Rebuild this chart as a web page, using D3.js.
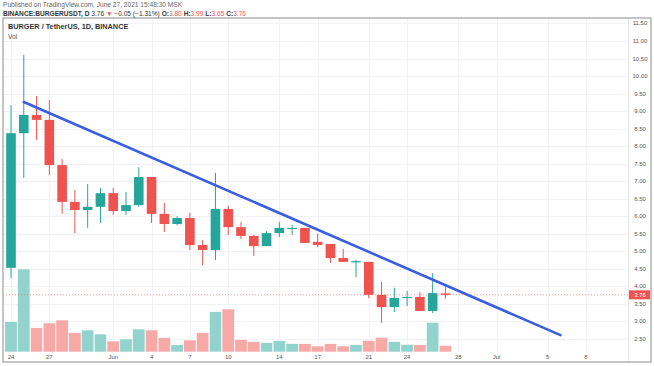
<!DOCTYPE html>
<html>
<head>
<meta charset="utf-8">
<script src="https://cdn.jsdelivr.net/npm/d3@7"></script>
<style>
  body { margin: 0; background: #fff; }
  svg { display: block; font-family: "Liberation Sans", Arial, sans-serif; }
</style>
</head>
<body>
<svg width="654" height="366"></svg>
<script>
const days = ["2021-05-24","2021-05-25","2021-05-26","2021-05-27","2021-05-28","2021-05-29","2021-05-30","2021-05-31",
  "2021-06-01","2021-06-02","2021-06-03","2021-06-04","2021-06-05","2021-06-06","2021-06-07","2021-06-08","2021-06-09",
  "2021-06-10","2021-06-11","2021-06-12","2021-06-13","2021-06-14","2021-06-15","2021-06-16","2021-06-17","2021-06-18",
  "2021-06-19","2021-06-20","2021-06-21","2021-06-22","2021-06-23","2021-06-24","2021-06-25","2021-06-26","2021-06-27"];
const open  = [4.53,8.37,8.89,8.75,7.46,6.41,6.18,6.27,6.66,6.15,6.32,7.12,6.07,5.78,5.95,5.18,5.04,6.21,5.69,5.44,5.15,5.52,5.64,5.67,5.27,5.21,4.81,4.70,4.70,3.76,3.41,3.67,3.70,3.30,3.80];
const high  = [9.17,10.60,9.43,9.32,7.63,6.75,6.92,6.81,6.81,6.69,7.40,7.12,6.38,6.00,6.10,5.32,7.24,6.30,5.84,5.47,5.58,5.84,5.75,5.67,5.50,5.21,5.07,4.75,4.70,4.13,3.96,3.87,3.84,4.38,3.99];
const low   = [4.24,7.09,8.18,7.18,6.07,5.52,5.67,5.81,6.04,6.04,6.27,5.81,5.55,5.75,5.04,4.61,4.75,5.47,5.35,4.87,5.15,5.41,5.47,5.24,5.12,4.67,4.70,4.27,3.67,2.96,3.27,3.44,3.30,3.24,3.65];
const close = [8.37,8.89,8.75,7.46,6.41,6.18,6.27,6.66,6.15,6.32,7.12,6.07,5.78,5.95,5.18,5.04,6.21,5.69,5.44,5.15,5.52,5.67,5.67,5.24,5.18,4.81,4.70,4.72,3.76,3.41,3.67,3.70,3.30,3.81,3.76];
const volume = [3.03,8.30,2.43,2.90,3.20,1.93,2.20,1.80,1.10,1.30,2.30,2.20,1.43,0.73,1.20,1.93,4.03,4.30,1.27,1.03,0.93,1.13,0.83,0.83,0.60,0.83,0.60,0.73,1.17,1.47,1.03,0.77,0.73,2.97,0.67];

const priceTicks = [2.5,3,3.5,4,4.5,5,5.5,6,6.5,7,7.5,8,8.5,9,9.5,10,10.5,11,11.5];
const dateTicks = ["2021-05-24","2021-05-27","2021-06-01","2021-06-04","2021-06-07","2021-06-10","2021-06-14",
  "2021-06-17","2021-06-21","2021-06-24","2021-06-28","2021-07-01","2021-07-05","2021-07-08"];
const trendDays = ["2021-05-25","2021-07-06"];
const trendPrices = [9.26, 2.61];
const lastPrice = 3.76;

const parse = d3.utcParse("%Y-%m-%d");
const candles = days.map((d, i) => ({date: parse(d), o: open[i], h: high[i], l: low[i], c: close[i], v: volume[i]}));

const svg = d3.select("svg");
const green = "#26a69a", red = "#ef5350";
const volGreen = "#93d3cd", volRed = "#f7a9a8";

// plot area
const pLeft = 3, pRight = 628, pTop = 18, pBottom = 352;

const x = d3.scaleUtc()
  .domain([parse("2021-05-24"), parse("2021-07-08")])
  .range([11, 586]);
const y = d3.scaleLinear()
  .domain([2.5, 11])
  .range([339, 41]);
const yv = d3.scaleLinear()
  .domain([0, 8.3])
  .range([pBottom, 269]);

const plot = svg.append("g");

// grid
plot.append("g")
  .selectAll("line")
  .data(priceTicks)
  .enter().append("line")
  .attr("x1", pLeft).attr("x2", pRight)
  .attr("y1", d => Math.round(y(d)) + 0.5).attr("y2", d => Math.round(y(d)) + 0.5)
  .attr("stroke", "#f0f2f7");
plot.append("g")
  .selectAll("line")
  .data(dateTicks)
  .enter().append("line")
  .attr("x1", d => Math.round(x(parse(d))) + 0.5).attr("x2", d => Math.round(x(parse(d))) + 0.5)
  .attr("y1", pTop).attr("y2", pBottom)
  .attr("stroke", "#f0f2f7");

// volume
const bw = 9.6;
plot.append("g")
  .selectAll("rect")
  .data(candles)
  .enter().append("rect")
  .attr("x", d => x(d.date) - 6.2)
  .attr("width", 12.4)
  .attr("y", d => yv(d.v))
  .attr("height", d => pBottom - yv(d.v))
  .attr("fill", d => d.c >= d.o ? volGreen : volRed)
  .attr("stroke", "#fff")
  .attr("stroke-width", 0.6);

// last price dotted line
plot.append("line")
  .attr("x1", pLeft).attr("x2", pRight)
  .attr("y1", y(lastPrice)).attr("y2", y(lastPrice))
  .attr("stroke", red)
  .attr("stroke-opacity", 0.6)
  .attr("stroke-dasharray", "1,2");

// candles
const cg = plot.append("g")
  .selectAll("g")
  .data(candles)
  .enter().append("g");
cg.append("line")
  .attr("x1", d => x(d.date)).attr("x2", d => x(d.date))
  .attr("y1", d => y(d.h)).attr("y2", d => y(d.l))
  .attr("stroke", d => d.c >= d.o ? green : red)
  .attr("stroke-width", 1);
cg.append("rect")
  .attr("x", d => x(d.date) - bw / 2)
  .attr("width", bw)
  .attr("y", d => y(Math.max(d.o, d.c)))
  .attr("height", d => Math.max(1.2, Math.abs(y(d.o) - y(d.c))))
  .attr("fill", d => d.c >= d.o ? green : red);

// trend line
plot.append("line")
  .attr("x1", x(parse(trendDays[0]))).attr("y1", y(trendPrices[0]))
  .attr("x2", x(parse(trendDays[1]))).attr("y2", y(trendPrices[1]))
  .attr("stroke", "#3b5ee0")
  .attr("stroke-width", 2.6)
  .attr("stroke-linecap", "round");

// price axis
svg.append("line")
  .attr("x1", pRight + 0.5).attr("x2", pRight + 0.5)
  .attr("y1", pTop).attr("y2", 362)
  .attr("stroke", "#e6e6e6");
svg.append("g")
  .selectAll("text")
  .data(priceTicks)
  .enter().append("text")
  .attr("x", 640)
  .attr("y", d => y(d) + 2)
  .attr("text-anchor", "middle")
  .attr("font-size", 6)
  .attr("fill", "#555")
  .text(d => d.toFixed(2));

svg.append("rect")
  .attr("x", 629).attr("y", y(lastPrice) - 4.5)
  .attr("width", 21).attr("height", 9)
  .attr("fill", red);
svg.append("text")
  .attr("x", 640).attr("y", y(lastPrice) + 2)
  .attr("text-anchor", "middle")
  .attr("font-size", 6)
  .attr("fill", "#fff")
  .text(lastPrice.toFixed(2));

// time axis
const fmt = d => {
  const t = parse(d);
  if (t.getUTCDate() === 1) return d3.utcFormat("%b")(t);
  return t.getUTCDate();
};
svg.append("g")
  .selectAll("text")
  .data(dateTicks)
  .enter().append("text")
  .attr("x", d => x(parse(d)))
  .attr("y", 359)
  .attr("text-anchor", "middle")
  .attr("font-size", 6)
  .attr("fill", "#555")
  .text(fmt);

// frame
svg.append("rect")
  .attr("x", pLeft).attr("y", pTop)
  .attr("width", 651 - pLeft).attr("height", 362 - pTop)
  .attr("fill", "none")
  .attr("stroke", "#9e9e9e")
  .attr("stroke-width", 1.2);

// header
svg.append("text")
  .attr("x", 3).attr("y", 7)
  .attr("font-size", 6.6)
  .attr("fill", "#666")
  .text("Published on TradingView.com, June 27, 2021 15:48:30 MSK");

const h2 = svg.append("text")
  .attr("x", 3).attr("y", 16)
  .attr("font-size", 6.6)
  .attr("fill", "#333");
h2.append("tspan").attr("font-weight", "bold").text("BINANCE:BURGERUSDT, D ");
h2.append("tspan").text(" 3.76 ");
h2.append("tspan").attr("fill", red).text("▼");
h2.append("tspan").text(" −0.05 (−1.31%) ");
[["O:", "3.80"], ["H:", "3.99"], ["L:", "3.65"], ["C:", "3.76"]].forEach(([k, v]) => {
  h2.append("tspan").attr("font-weight", "bold").text(k);
  h2.append("tspan").attr("fill", red).text(v + " ");
});

svg.append("text")
  .attr("x", 8).attr("y", 29)
  .attr("font-size", 7.3)
  .attr("font-weight", "bold")
  .attr("fill", "#333")
  .text("BURGER / TetherUS, 1D, BINANCE");
svg.append("text")
  .attr("x", 8).attr("y", 39)
  .attr("font-size", 6.6)
  .attr("fill", "#555")
  .text("Vol");
</script>
</body>
</html>
